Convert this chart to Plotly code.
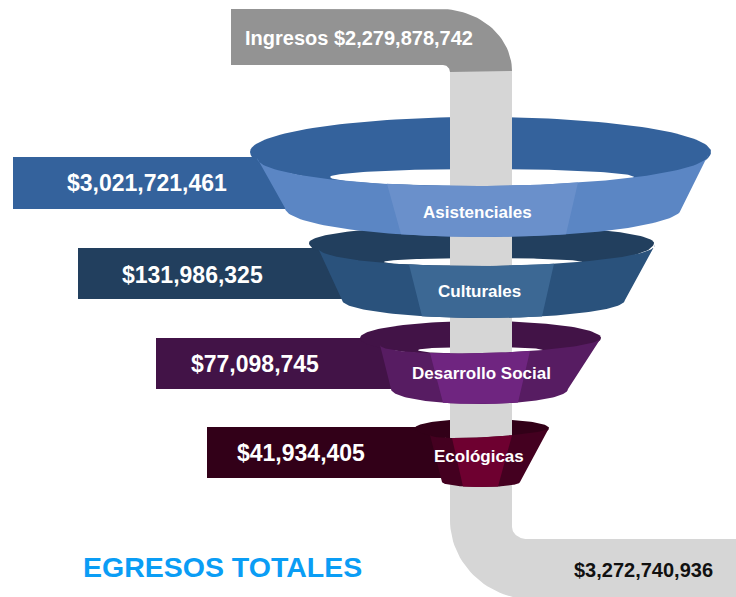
import numpy as np
import plotly.graph_objects as go

# ---- Data ----
categories = ["Asistenciales", "Culturales", "Desarrollo Social", "Ecológicas"]
egresos = [3021721461, 131986325, 77098745, 41934405]
ingresos = 2279878742
egresos_totales = 3272740936
titulo = "EGRESOS TOTALES"

# ---- Drawing geometry of the illustration (pixel-like axes) ----
W, H = 736, 597
funnels = [
    dict(rim=(250, 711, 152, 117, 190), body_top=(257, 708, 158, 155, 186), body_bot=(285, 682, 208, 237),
         hole=(330, 634, 177, 169, 186), panel=(387, 578, 401, 566),
         bar=(13, 290, 157, 209), colors=("#34629C", "#5B86C4", "#6A90CB"), value_x=147, value_y=183, label_y=212, cx=477),
    dict(rim=(309, 654, 243, 225, 269), body_top=(318, 655, 248, 245, 266), body_bot=(342, 625, 300, 318),
         hole=(384, 582, 262, 258, 266), panel=(409, 554, 422, 542),
         bar=(78, 345, 248, 299), colors=("#223F5E", "#2A527C", "#3C6894"), value_x=192, value_y=275, label_y=291, cx=479),
    dict(rim=(360, 601, 338, 321, 356), body_top=(380, 601, 345, 338, 353), body_bot=(391, 568, 389, 404),
         hole=(418, 543, 350, 347, 354), panel=(430, 530, 443, 518),
         bar=(156, 395, 338, 389), colors=("#421347", "#571C62", "#6F2580"), value_x=255, value_y=364, label_y=373, cx=481),
    dict(rim=(415, 549, 428, 419, 440), body_top=(430, 549, 435, 428, 437), body_bot=(442, 520, 482, 487),
         hole=(450, 512, 436, 435, 438), panel=(452, 512, 463, 498),
         bar=(207, 445, 427, 478), colors=("#320018", "#440020", "#6E0030"), value_x=301, value_y=453, label_y=456, cx=479),
]
PIPE = "#D6D6D6"
GRAY = "#939393"


def arc(x0, x1, y_end, y_mid, n=80):
    """Half-ellipse from (x0, y_end) to (x1, y_end) through y_mid at the centre."""
    t = np.linspace(np.pi, 0, n)
    cx, rx = (x0 + x1) / 2, (x1 - x0) / 2
    return cx + rx * np.cos(t), y_end + (y_mid - y_end) * np.sin(t)


def tilted_arc(x0, x1, y0, y1, y_mid, n=80):
    """Half-ellipse whose two ends sit at different heights."""
    t = np.linspace(np.pi, 0, n)
    cx, rx = (x0 + x1) / 2, (x1 - x0) / 2
    x = cx + rx * np.cos(t)
    base = y0 + (y1 - y0) * (x - x0) / (x1 - x0)
    return x, base + (y_mid - (y0 + y1) / 2) * np.sin(t)


def quarter(cx, cy, rx, ry, a0, a1, n=30):
    t = np.radians(np.linspace(a0, a1, n))
    return cx + rx * np.cos(t), cy + ry * np.sin(t)


fig = go.Figure()


def poly(xs, ys, color):
    fig.add_trace(go.Scatter(x=list(xs), y=list(ys), mode="lines", fill="toself", fillcolor=color,
                             line=dict(width=0, color=color), hoverinfo="skip", showlegend=False))


# Back rims, side bars and openings
for f in reversed(funnels):
    c = f["colors"]
    x0, x1, yt, ytop, ylow = f["rim"]
    bx0, bx1, by0, by1 = f["bar"]
    poly([bx0, bx1, bx1, bx0], [by0, by0, by1, by1], c[0])
    ax, ay = arc(x0, x1, yt, ytop)
    bx, by = arc(x1, x0, yt, ylow)
    poly(np.r_[ax, bx], np.r_[ay, by], c[0])
    hx0, hx1, hy, hup, hlow = f["hole"]
    ax, ay = arc(hx0, hx1, hy, hup)
    bx, by = arc(hx1, hx0, hy, hlow)
    poly(np.r_[ax, bx], np.r_[ay, by], "#FFFFFF")

# Central pipe and its bends
ix, iy = quarter(527, 527, 15, 12, 180, 90)
ox, oy = quarter(535, 520, 85, 80, 90, 180)
poly(np.r_[450, 512, ix, 736, 736, ox, 450],
     np.r_[71, 71, iy, 539, 600, oy, 71], PIPE)

ox, oy = quarter(440, 71, 72, 62, -90, 0)
ix, iy = quarter(443, 72, 7, 7, 0, -90)
poly(np.r_[231, ox, ix, 231], np.r_[9, oy, iy, 65], GRAY)

# Funnel bodies, lowest first so each overlaps the rim of the next one
for f in reversed(funnels):
    c = f["colors"]
    tx0, tx1, ty0, ty1, tm = f["body_top"]
    bx0, bx1, by, bm = f["body_bot"]
    ax, ay = tilted_arc(tx0, tx1, ty0, ty1, tm)
    bx, by2 = arc(bx1, bx0, by, bm)
    poly(np.r_[ax, bx], np.r_[ay, by2], c[1])
    p0, p1, p2, p3 = f["panel"]
    # central panel follows the top and bottom curves of the body
    top_mask = (ax >= p0) & (ax <= p1)
    bot_mask = (bx >= p2) & (bx <= p3)
    poly(np.r_[p0, ax[top_mask], p1, p3, bx[bot_mask], p2],
         np.r_[np.interp(p0, ax, ay), ay[top_mask], np.interp(p1, ax, ay),
               np.interp(p3, bx[::-1], by2[::-1]), by2[bot_mask], np.interp(p2, bx[::-1], by2[::-1])], c[2])


def label(x, y, text, size, color="#FFFFFF"):
    fig.add_annotation(x=x, y=y, text=f"<b>{text}</b>", showarrow=False, xanchor="center", yanchor="middle",
                       font=dict(family="Liberation Sans, Arial, sans-serif", size=size, color=color))


for f, name, val in zip(funnels, categories, egresos):
    label(f["value_x"], f["value_y"], f"${val:,}", 23)
    label(f["cx"], f["label_y"], name, 17)

label(359, 38, f"Ingresos ${ingresos:,}", 20)
label(643, 570, f"${egresos_totales:,}", 20, "#111111")
label(222, 567, titulo, 28.5, "#0A9DF5")

fig.update_layout(
    width=W, height=H, autosize=False, margin=dict(l=0, r=0, t=0, b=0),
    paper_bgcolor="#FFFFFF", plot_bgcolor="#FFFFFF", showlegend=False, hovermode=False,
    xaxis=dict(range=[0, W], visible=False, fixedrange=True),
    yaxis=dict(range=[H, 0], visible=False, fixedrange=True),
)
fig.write_html("out.html", config=dict(displayModeBar=False),
               post_script="document.body.style.margin='0';document.body.style.overflow='hidden';")
